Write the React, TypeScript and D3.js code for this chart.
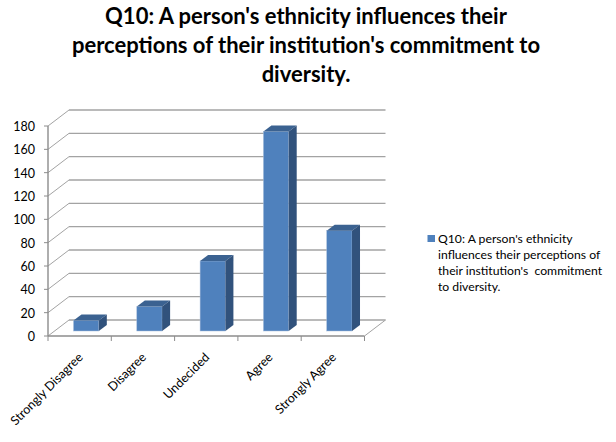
import { scaleBand, scaleLinear, range } from 'd3';

const categories = ['Strongly Disagree', 'Disagree', 'Undecided', 'Agree', 'Strongly Agree'];
const values = [9, 21, 60, 171, 86];
const yTicks = [0, 20, 40, 60, 80, 100, 120, 140, 160, 180];
const titleLines = [
  "Q10: A person's ethnicity influences their",
  "perceptions of their institution's commitment to",
  'diversity.',
];
const legendLines = [
  "Q10: A person's ethnicity",
  'influences their perceptions of',
  "their institution's  commitment",
  'to diversity.',
];

const width = 616;
const height = 442;
const font = 'Lato, "Open Sans", sans-serif';

const axisColor = '#8c8c8c';
const gridColor = '#a3a3a3';

// wall depth of the fake 3d box
const wallDx = 21;
const wallDy = -16;
// depth of a single bar
const barDx = 8;
const barDy = -6;
const barLift = 5;
const barShift = 6.5;

const x = scaleBand<string>().domain(categories).range([48, 364.5]).paddingInner(0.6).paddingOuter(0.3);
const step = x.step();
const y = scaleLinear().domain([0, 180]).range([336, 126]);

export default function App() {
  const tickXs = range(categories.length + 1).map((i) => 48 + i * step);

  return (
    <svg
      width={width}
      height={height}
      style={{ position: 'absolute', left: 0, top: 0, background: '#fff' }}
    >
      {titleLines.map((line, i) => (
        <text
          key={line}
          x={306}
          y={24 + i * 29}
          textAnchor="middle"
          fontFamily={font}
          fontWeight={700}
          fontSize={22}
          fill="#000"
        >
          {line}
        </text>
      ))}

      {/* back wall gridlines and left wall diagonals */}
      {yTicks.map((t) => (
        <g key={t}>
          {t > 0 && (
            <line
              x1={48 + wallDx}
              x2={364.5 + wallDx}
              y1={y(t) + wallDy}
              y2={y(t) + wallDy}
              stroke={gridColor}
              strokeWidth={1.4}
            />
          )}
          <line
            x1={48}
            x2={48 + wallDx}
            y1={y(t)}
            y2={y(t) + wallDy}
            stroke={gridColor}
            strokeWidth={1}
          />
          <line x1={44} x2={48} y1={y(t)} y2={y(t)} stroke={axisColor} />
          <text
            x={35}
            y={y(t) + 5}
            textAnchor="end"
            fontFamily={font}
            fontSize={12.5}
            fill="#000"
          >
            {t}
          </text>
        </g>
      ))}
      <line
        x1={48 + wallDx}
        x2={364.5 + wallDx}
        y1={y(0) + wallDy}
        y2={y(0) + wallDy}
        stroke={gridColor}
        strokeWidth={1.4}
      />

      {/* floor and axes */}
      <line x1={364.5} x2={364.5 + wallDx} y1={y(0)} y2={y(0) + wallDy} stroke={gridColor} />
      <line x1={48} x2={48} y1={y(180)} y2={y(0)} stroke={axisColor} strokeWidth={1.4} />
      <line x1={48} x2={364.5} y1={y(0)} y2={y(0)} stroke={axisColor} strokeWidth={1.4} />
      {tickXs.map((tx) => (
        <line key={tx} x1={tx} x2={tx} y1={y(0)} y2={y(0) + 5} stroke={axisColor} />
      ))}

      {/* bars */}
      {categories.map((c, i) => {
        const bw = x.bandwidth();
        const left = (x(c) as number) + barShift;
        const right = left + bw;
        const top = y(values[i]) - barLift;
        const base = y(0) - barLift;
        return (
          <g key={c}>
            <rect x={left} y={top} width={bw} height={base - top} fill="#4f81bd" stroke="#a9bfdc" strokeWidth={0.5} />
            <path
              d={`M${left},${top}L${left + barDx},${top + barDy}H${right + barDx}L${right},${top}Z`}
              fill="#3b6291"
            />
            <path
              d={`M${right},${top}L${right + barDx},${top + barDy}V${base + barDy}L${right},${base}Z`}
              fill="#31527c"
            />
          </g>
        );
      })}

      {/* category labels */}
      {categories.map((c) => (
        <text
          key={c}
          transform={`translate(${(x(c) as number) + x.bandwidth() / 2 + 4},${y(0) + 22}) rotate(-45)`}
          textAnchor="end"
          fontFamily={font}
          fontSize={12.5}
          fill="#000"
        >
          {c}
        </text>
      ))}

      {/* legend */}
      <rect x={427.5} y={235} width={7.5} height={7} fill="#4f81bd" />
      {legendLines.map((line, i) => (
        <text
          key={line}
          x={438}
          y={242.5 + i * 16.2}
          fontFamily={font}
          fontSize={12.2}
          fill="#000"
          style={{ whiteSpace: 'pre' }}
        >
          {line}
        </text>
      ))}
    </svg>
  );
}
